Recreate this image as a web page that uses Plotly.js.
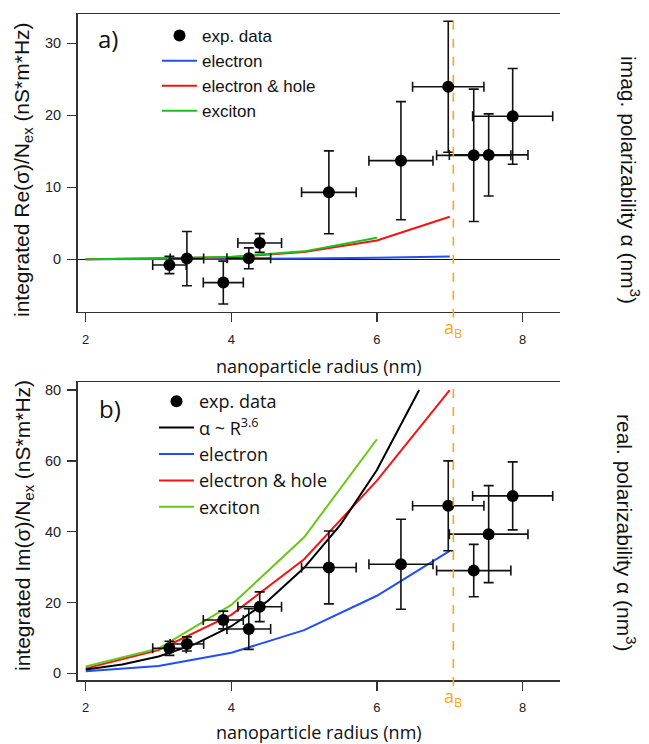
<!DOCTYPE html>
<html>
<head>
<meta charset="utf-8">
<script src="https://cdn.plot.ly/plotly-3.0.1.min.js"></script>
<style>html,body{margin:0;padding:0;background:#fff;}#chart{width:649px;height:744px;}</style>
</head>
<body>
<div id="chart"></div>
<script>
// ---- experimental data (shared radii) ----
const radius    = [3.15, 3.39, 3.89, 4.24, 4.39, 5.34, 6.33, 6.98, 7.33, 7.535, 7.865];
const radiusErr = [0.23, 0.23, 0.275, 0.30, 0.30, 0.375, 0.44, 0.49, 0.51, 0.54, 0.55];
// panel a: integrated Re(sigma)/N_ex
const reSigma    = [-0.79, 0.10, -3.24, 0.14, 2.26, 9.30, 13.70, 23.97, 14.44, 14.50, 19.86];
const reSigmaErr = [1.20, 3.77, 2.98, 1.45, 1.30, 5.76, 8.20, 9.10, 9.20, 5.70, 6.65];
// panel b: integrated Im(sigma)/N_ex
const imSigma    = [7.06, 8.28, 15.06, 12.50, 18.80, 29.90, 30.80, 47.30, 29.00, 39.30, 50.10];
const imSigmaErr = [2.0, 2.0, 2.5, 5.75, 4.2, 10.3, 12.7, 12.7, 7.4, 13.7, 9.6];

// ---- model curves ----
const modelR        = [2, 3, 4, 5, 6, 7];
const excitonR      = [2, 3, 4, 5, 6];
const reElectron    = [0, 0.02, 0.05, 0.10, 0.20, 0.40];
const reElecHole    = [0, 0.10, 0.30, 1.00, 2.60, 5.90];
const reExciton     = [0, 0.10, 0.35, 1.10, 3.00];
const imElectron    = [0.55, 2.06, 5.8, 12.2, 21.9, 34.6];
const imElecHole    = [1.4, 6.6, 16.5, 32.2, 54.4, 80.0];
const imExciton     = [1.9, 7.0, 19.3, 38.4, 66.1];
const powerR        = [2, 2.5, 3, 3.5, 4, 4.5, 5, 5.5, 6, 6.5, 6.58];
const powerIm       = [1.1, 2.46, 4.73, 8.25, 13.3, 20.4, 29.8, 42.0, 57.4, 76.6, 80.0];
const bohrRadius    = 7.05;

// ---- labels ----
const xTitle   = 'nanoparticle radius (nm)';
const yTitleA  = 'integrated Re(σ)/N<sub>ex</sub> (nS*m*Hz)';
const y2TitleA = 'imag. polarizability α (nm<sup>3</sup>)';
const yTitleB  = 'integrated Im(σ)/N<sub>ex</sub> (nS*m*Hz)';
const y2TitleB = 'real. polarizability α (nm<sup>3</sup>)';
const xTicks   = [2, 4, 6, 8];
const yTicksA  = [0, 10, 20, 30];
const y2TicksA = [0, 100, 200];
const yTicksB  = [0, 20, 40, 60, 80];
const y2TicksB = [0, 200, 400];

const W = 649, H = 744;
const px = v => v / W, py = v => 1 - v / H;

const BLUE = 'rgb(30,80,245)', RED = 'rgb(245,20,20)', GREEN_A = 'rgb(25,195,25)', GREEN_B = 'rgb(105,200,20)', ORANGE = '#FFA41B';
const TICKFONT = 'Liberation Sans, Arial, sans-serif';
const TITLEFONT = 'Open Sans, sans-serif';

function lineTrace(x, y, name, color, xa, ya, legend, rank) {
  return {x, y, name, type: 'scatter', mode: 'lines', line: {color, width: 2},
          xaxis: xa, yaxis: ya, legend, legendrank: rank, hoverinfo: 'skip'};
}
function dataTrace(y, err, xa, ya, legend) {
  return {x: radius, y, name: 'exp. data', type: 'scatter', mode: 'markers',
          marker: {color: '#000', size: 12},
          error_y: {type: 'data', array: err, visible: true, color: '#111', thickness: 1.6, width: 5},
          error_x: {type: 'data', array: radiusErr, visible: true, color: '#111', thickness: 1.6, width: 5},
          xaxis: xa, yaxis: ya, legend, legendrank: 1};
}

const traces = [
  lineTrace(modelR, reElectron, 'electron', BLUE, 'x', 'y', 'legend', 2),
  lineTrace(modelR, reElecHole, 'electron &amp; hole', RED, 'x', 'y', 'legend', 3),
  lineTrace(excitonR, reExciton, 'exciton', GREEN_A, 'x', 'y', 'legend', 4),
  dataTrace(reSigma, reSigmaErr, 'x', 'y', 'legend'),
  lineTrace(modelR, imElectron, 'electron', BLUE, 'x2', 'y3', 'legend2', 3),
  lineTrace(modelR, imElecHole, 'electron &amp; hole', RED, 'x2', 'y3', 'legend2', 4),
  lineTrace(excitonR, imExciton, 'exciton', GREEN_B, 'x2', 'y3', 'legend2', 5),
  lineTrace(powerR, powerIm, 'α ~ R<sup>3.6</sup>', '#000', 'x2', 'y3', 'legend2', 2),
  dataTrace(imSigma, imSigmaErr, 'x2', 'y3', 'legend2')
];

const axisCommon = {showline: true, linecolor: '#333', linewidth: 1.5, ticks: 'outside', ticklen: 9,
                    tickwidth: 1.5, tickcolor: '#333', showgrid: false, zeroline: false,
                    tickfont: {family: TICKFONT, size: 14.5, color: '#222'}, fixedrange: true};
const xRange = [1.887, 8.515];

function ann(text, x, y, angle, font, xref, yref) {
  return {text, x, y, xref: xref || 'paper', yref: yref || 'paper', textangle: angle || 0,
          xanchor: 'center', yanchor: 'middle', showarrow: false, font};
}
const yTitleFont = {family: TICKFONT, size: 21, color: '#111'};
const panelFont = {family: TITLEFONT, size: 24, color: '#111'};
const aBFont = {family: TITLEFONT, size: 18, color: ORANGE};

const layout = {
  width: W, height: H, margin: {l: 0, r: 0, t: 0, b: 0},
  paper_bgcolor: '#fff', plot_bgcolor: '#fff', showlegend: true,
  xaxis: Object.assign({}, axisCommon, {domain: [px(77.5), px(560)], range: xRange, tickvals: xTicks,
         mirror: true, anchor: 'y', tickfont: {family: TICKFONT, size: 13, color: '#222'}, ticklabelstandoff: 6,
         title: {text: xTitle, font: {family: TITLEFONT, size: 18, color: '#111'}, standoff: 14}}),
  yaxis: Object.assign({}, axisCommon, {domain: [py(311.7), py(14)], range: [-7.28, 34.07], tickvals: yTicksA,
         anchor: 'x', zeroline: true, zerolinecolor: '#111', zerolinewidth: 1.3, ticklabelstandoff: 3}),
  yaxis2: Object.assign({}, axisCommon, {overlaying: 'y', side: 'right', anchor: 'x', range: [-49.4, 231.4],
         tickvals: y2TicksA, ticklabelstandoff: 6}),
  xaxis2: Object.assign({}, axisCommon, {domain: [px(77.5), px(560)], range: xRange, tickvals: xTicks,
         mirror: true, anchor: 'y3', tickfont: {family: TICKFONT, size: 13, color: '#222'}, ticklabelstandoff: 6,
         title: {text: xTitle, font: {family: TITLEFONT, size: 18, color: '#111'}, standoff: 13}}),
  yaxis3: Object.assign({}, axisCommon, {domain: [py(680), py(382.3)], range: [-1.89, 82.18], tickvals: yTicksB,
         anchor: 'x2', ticklabelstandoff: 3}),
  yaxis4: Object.assign({}, axisCommon, {overlaying: 'y3', side: 'right', anchor: 'x2', range: [-12.3, 533.2],
         tickvals: y2TicksB, ticklabelstandoff: 6}),
  legend: {x: px(157), y: py(18), xanchor: 'left', yanchor: 'top', bgcolor: 'rgba(0,0,0,0)',
           font: {family: TICKFONT, size: 17, color: '#111'}, itemwidth: 35, tracegroupgap: 0},
  legend2: {x: px(154), y: py(383), xanchor: 'left', yanchor: 'top', bgcolor: 'rgba(0,0,0,0)',
           font: {family: TITLEFONT, size: 18, color: '#111'}, itemwidth: 35, tracegroupgap: 0},
  shapes: [
    {type: 'line', xref: 'x', yref: 'y domain', x0: bohrRadius, x1: bohrRadius, y0: -0.02, y1: 1,
     line: {color: ORANGE, width: 1.6, dash: 'dash'}},
    {type: 'line', xref: 'x2', yref: 'y3 domain', x0: bohrRadius, x1: bohrRadius, y0: -0.02, y1: 1,
     line: {color: ORANGE, width: 1.6, dash: 'dash'}}
  ],
  annotations: [
    ann('a)', px(108), py(39), 0, panelFont),
    ann('b)', px(110), py(409), 0, panelFont),
    ann('a<sub>B</sub>', bohrRadius, py(329), 0, aBFont, 'x', 'paper'),
    ann('a<sub>B</sub>', bohrRadius, py(697), 0, aBFont, 'x2', 'paper'),
    ann(yTitleA, px(23), py(170), -90, yTitleFont),
    ann(y2TitleA, px(630), py(180), 90, yTitleFont),
    ann(yTitleB, px(24), py(526), -90, yTitleFont),
    ann(y2TitleB, px(626), py(532), 90, yTitleFont)
  ]
};

Plotly.newPlot('chart', traces, layout, {staticPlot: true, displayModeBar: false});
</script>
</body>
</html>
